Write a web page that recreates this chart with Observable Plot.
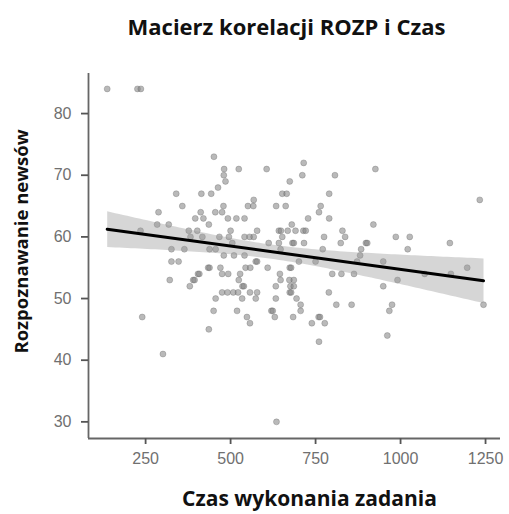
<!DOCTYPE html>
<html>
<head>
<meta charset="utf-8">
<script src="https://cdn.jsdelivr.net/npm/d3@7"></script>
<script src="https://cdn.jsdelivr.net/npm/@observablehq/plot@0.6"></script>
<style>
  html, body { margin: 0; padding: 0; background: #fff; }
  #wrap { width: 509px; height: 514px; position: relative; overflow: hidden; }
  #title { height: 50px; line-height: 52px; font-family: "Open Sans", sans-serif; font-weight: 700;
           font-size: 22px; color: #111; text-align: center; padding-left: 64px; box-sizing: border-box; width: 509px; white-space: nowrap; }
</style>
</head>
<body>
<div id="wrap">
  <div id="title">Macierz korelacji ROZP i Czas</div>
  <div id="chart"></div>
</div>
<script>
const titleText = "Macierz korelacji ROZP i Czas";
const xLabel = "Czas wykonania zadania";
const yLabel = "Rozpoznawanie newsów";
const xTicks = [250, 500, 750, 1000, 1250];
const yTicks = [30, 40, 50, 60, 70, 80];

// Czas wykonania zadania (x)
const czas = [
  137, 226, 236,
  451,
  715,
  481, 524, 606, 926,
  480, 711, 807,
  485, 674,
  463,
  340, 414, 443, 652, 665, 790,
  568, 1233,
  358, 479, 551, 567, 634, 662, 765,
  288, 412, 455, 475, 760,
  396, 420, 492, 517, 541, 728, 790,
  284, 318, 436, 680, 920,
  235, 377, 402, 500, 578, 642, 648, 668, 691, 714, 721, 829,
  382, 417, 467, 495, 541, 556, 568, 652, 775, 837, 986, 1027,
  505, 612, 642, 682, 686, 716, 824, 898, 902, 1145,
  326, 364, 438, 456, 647, 771, 884, 1021,
  480, 510, 541, 881,
  326, 347, 574, 578, 701, 750, 872, 949,
  434, 438, 470, 544, 558, 609, 674, 678, 1196,
  404, 408, 475, 493, 528, 645, 799, 826, 863, 1071, 1148,
  321, 390, 394, 524, 647, 673, 686, 991,
  380, 535, 539, 633, 676, 686, 949,
  475, 491, 508, 522, 557, 578, 674, 678, 789,
  456, 534, 574, 633, 694,
  706, 811, 856, 975, 1244,
  450, 519, 620, 624, 706, 967,
  240, 548, 630, 684, 759, 763,
  557, 739, 777,
  436,
  961,
  760,
  301,
  635
];

// Rozpoznawanie newsów (y)
const rozp = [
  84, 84, 84,
  73,
  72,
  71, 71, 71, 71,
  70, 70, 70,
  69, 69,
  68,
  67, 67, 67, 67, 67, 67,
  66, 66,
  65, 65, 65, 65, 65, 65, 65,
  64, 64, 64, 64, 64,
  63, 63, 63, 63, 63, 63, 63,
  62, 62, 62, 62, 62,
  61, 61, 61, 61, 61, 61, 61, 61, 61, 61, 61, 61,
  60, 60, 60, 60, 60, 60, 60, 60, 60, 60, 60, 60,
  59, 59, 59, 59, 59, 59, 59, 59, 59, 59,
  58, 58, 58, 58, 58, 58, 58, 58,
  57, 57, 57, 57,
  56, 56, 56, 56, 56, 56, 56, 56,
  55, 55, 55, 55, 55, 55, 55, 55, 55,
  54, 54, 54, 54, 54, 54, 54, 54, 54, 54, 54,
  53, 53, 53, 53, 53, 53, 53, 53,
  52, 52, 52, 52, 52, 52, 52,
  51, 51, 51, 51, 51, 51, 51, 51, 51,
  50, 50, 50, 50, 50,
  49, 49, 49, 49, 49,
  48, 48, 48, 48, 48, 48,
  47, 47, 47, 47, 47, 47,
  46, 46, 46,
  45,
  44,
  43,
  41,
  30
];

const data = czas.map((c, i) => ({czas: c, rozp: rozp[i]}));
const xDomain = [82, 1294];
const yDomain = [27.3, 86.5];

const plot = Plot.plot({
  width: 509,
  height: 464,
  marginTop: 23,
  marginBottom: 76,
  marginLeft: 88,
  marginRight: 9,
  style: {fontFamily: "'Liberation Sans', Arial, sans-serif", fontSize: "16px", background: "#fff", overflow: "visible"},
  x: {domain: xDomain, label: null},
  y: {domain: yDomain, label: null},
  marks: [
    Plot.dot(data, {x: "czas", y: "rozp", r: 3, fill: "#808080", fillOpacity: 0.55, stroke: "#555", strokeOpacity: 0.35, strokeWidth: 0.8}),
    Plot.linearRegressionY(data, {x: "czas", y: "rozp", ci: 0.95, stroke: "#000", strokeWidth: 3, fill: "#999", fillOpacity: 0.4}),
    Plot.ruleX([xDomain[0]], {stroke: "#666", strokeWidth: 1.8}),
    Plot.ruleY([yDomain[0]], {stroke: "#666", strokeWidth: 1.8}),
    Plot.axisX({ticks: xTicks, tickFormat: d => String(d), tickSize: 6, tickPadding: 8, stroke: "#555", strokeWidth: 1.8, fill: "#707070", label: null}),
    Plot.axisY({ticks: yTicks, tickFormat: d => String(d), tickSize: 7, tickPadding: 10, stroke: "#555", strokeWidth: 1.8, fill: "#707070", label: null}),
    Plot.text([xLabel], {frameAnchor: "bottom", textAnchor: "middle", lineAnchor: "middle", dy: 61, dx: 15, fontSize: 21, fontWeight: 700, fill: "#111", fontFamily: "'Open Sans', sans-serif"}),
    Plot.text([yLabel], {frameAnchor: "left", textAnchor: "middle", lineAnchor: "middle", dx: -66, dy: -14.5, rotate: -90, fontSize: 18.5, fontWeight: 700, fill: "#111", fontFamily: "'Open Sans', sans-serif"})
  ]
});
document.getElementById("chart").appendChild(plot);
</script>
</body>
</html>
